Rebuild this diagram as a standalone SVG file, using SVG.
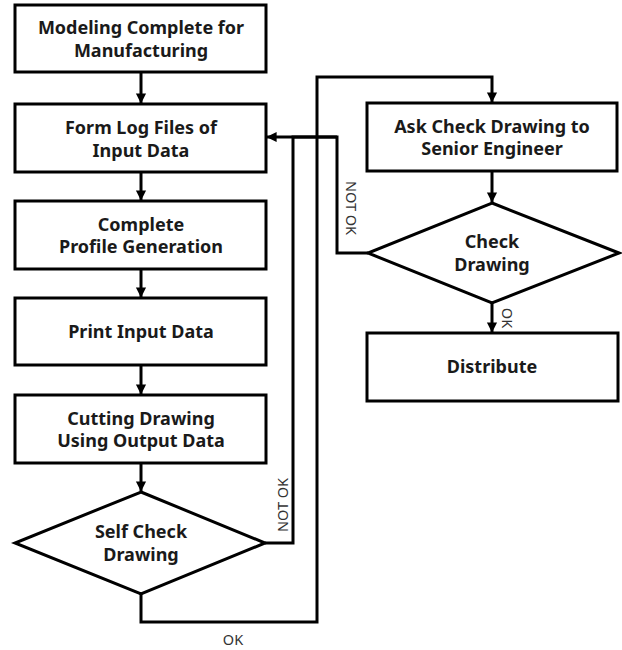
<svg xmlns="http://www.w3.org/2000/svg" width="622" height="650" viewBox="0 0 622 650">
<style>
.box{fill:#fff;stroke:#000;stroke-width:3}
.t{font-family:"Noto Sans","Liberation Sans",sans-serif;font-weight:bold;font-size:18px;fill:#1a1a1a;text-anchor:middle}
.c{fill:none;stroke:#000;stroke-width:3}
.l{font-family:"Noto Sans","Liberation Sans",sans-serif;font-size:14.5px;fill:#333;text-anchor:middle}
</style>
<defs>
<marker id="a" markerWidth="4" markerHeight="4" refX="3.2" refY="2" orient="auto" markerUnits="strokeWidth">
<path d="M0,0.3 L3.4,2 L0,3.7 Z" fill="#000"/>
</marker>
</defs>
<g id="connectors">
<path class="c" d="M141,72 V103" marker-end="url(#a)"/>
<path class="c" d="M141,172 V200" marker-end="url(#a)"/>
<path class="c" d="M141,269 V297" marker-end="url(#a)"/>
<path class="c" d="M141,365 V394" marker-end="url(#a)"/>
<path class="c" d="M141,463 V491" marker-end="url(#a)"/>
<path class="c" d="M265,543 H293 V137 H337"/>
<path class="c" d="M368,253 H337 V137 H267" marker-end="url(#a)"/>
<path class="c" d="M141,594 V622 H317 V77 H492 V102" marker-end="url(#a)"/>
<path class="c" d="M492,171 V202" marker-end="url(#a)"/>
<path class="c" d="M492,303 V332" marker-end="url(#a)"/>
<text class="l" transform="translate(283,505) rotate(-90)" dy="5">NOT OK</text>
<text class="l" transform="translate(351,208) rotate(90)" dy="5">NOT OK</text>
<text class="l" transform="translate(507,318) rotate(90)" dy="5">OK</text>
<text class="l" x="233" y="645">OK</text>
</g>
<g id="n1"><rect class="box" x="15" y="5" width="251" height="67"/><text class="t" x="141" y="34">Modeling Complete for</text><text class="t" x="141" y="57">Manufacturing</text></g>
<g id="n2"><rect class="box" x="15" y="104" width="251" height="68"/><text class="t" x="141" y="134">Form Log Files of</text><text class="t" x="141" y="157">Input Data</text></g>
<g id="n3"><rect class="box" x="15" y="201" width="251" height="68"/><text class="t" x="141" y="231">Complete</text><text class="t" x="141" y="253">Profile Generation</text></g>
<g id="n4"><rect class="box" x="15" y="298" width="251" height="67"/><text class="t" x="141" y="338">Print Input Data</text></g>
<g id="n5"><rect class="box" x="15" y="395" width="251" height="68"/><text class="t" x="141" y="425">Cutting Drawing</text><text class="t" x="141" y="447">Using Output Data</text></g>
<g id="n6"><polygon class="box" points="141,492 265,543 141,594 15,543"/><text class="t" x="141" y="538">Self Check</text><text class="t" x="141" y="561">Drawing</text></g>
<g id="n7"><rect class="box" x="367" y="103" width="250" height="68"/><text class="t" x="492" y="133">Ask Check Drawing to</text><text class="t" x="492" y="155">Senior Engineer</text></g>
<g id="n8"><polygon class="box" points="492,203 619,253 492,303 368,253"/><text class="t" x="492" y="248">Check</text><text class="t" x="492" y="271">Drawing</text></g>
<g id="n9"><rect class="box" x="367" y="333" width="251" height="68"/><text class="t" x="492" y="373">Distribute</text></g>
</svg>
